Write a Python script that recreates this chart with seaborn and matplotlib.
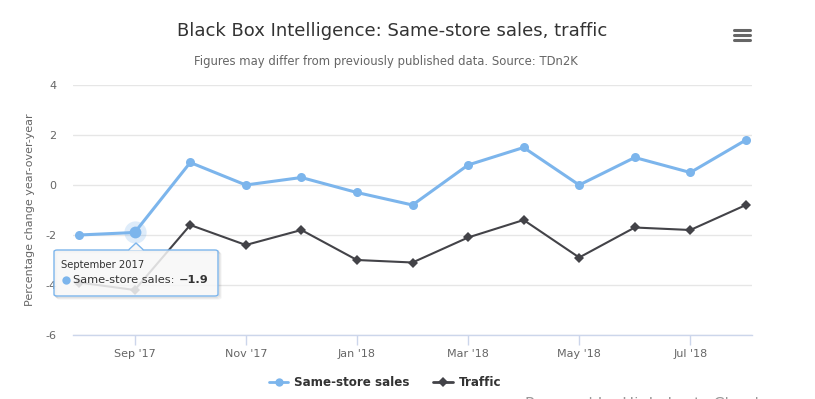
import matplotlib
matplotlib.use("Agg")
import matplotlib.pyplot as plt
import seaborn as sns
import pandas as pd
import numpy as np
from matplotlib.patches import FancyBboxPatch, Polygon
from matplotlib.lines import Line2D

months = ["Aug '17", "Sep '17", "Oct '17", "Nov '17", "Dec '17", "Jan '18", "Feb '18",
          "Mar '18", "Apr '18", "May '18", "Jun '18", "Jul '18", "Aug '18"]
same_store_sales = [-2.0, -1.9, 0.9, 0.0, 0.3, -0.3, -0.8, 0.8, 1.5, 0.0, 1.1, 0.5, 1.8]
traffic = [-3.9, -4.2, -1.6, -2.4, -1.8, -3.0, -3.1, -2.1, -1.4, -2.9, -1.7, -1.8, -0.8]
tick_labels = ["Sep '17", "Nov '17", "Jan '18", "Mar '18", "May '18", "Jul '18"]
y_ticks = [-6, -4, -2, 0, 2, 4]

W, H = 815, 399
sns.set_theme(style="white")
plt.rcParams['font.family'] = ['DejaVu Sans']

fig = plt.figure(figsize=(W / 100, H / 100), dpi=100)

def fx(px):
    return px / W

def fy(py):
    return 1 - py / H

ax = fig.add_axes([fx(73), fy(335), fx(752) - fx(73), fy(85) - fy(335)])

idx = np.arange(len(months))
df = pd.DataFrame({"x": idx, "sales": same_store_sales, "traffic": traffic})

c_sales = "#7cb5ec"
c_traffic = "#434348"

sns.lineplot(data=df, x="x", y="traffic", ax=ax, color=c_traffic, lw=1.5,
             marker="D", markersize=5, markeredgewidth=0, zorder=3)
sns.lineplot(data=df, x="x", y="sales", ax=ax, color=c_sales, lw=2.2,
             marker="o", markersize=6.5, markeredgewidth=0, zorder=4)

# hover halo on Sep point
ax.plot([idx[1]], [same_store_sales[1]], marker="o", markersize=16, color=c_sales,
        alpha=0.25, markeredgewidth=0, zorder=5)
ax.plot([idx[1]], [same_store_sales[1]], marker="o", markersize=8.5, color=c_sales,
        markeredgewidth=0, zorder=6)

ax.set_xlim(-0.11, len(months) - 1 + 0.11)
ax.set_ylim(-6, 4)
ax.set_yticks(y_ticks)
ax.set_yticklabels([str(v) for v in y_ticks], color="#666666", fontsize=8)
tick_pos = [months.index(t) for t in tick_labels]
ax.set_xticks(tick_pos)
ax.set_xticklabels(tick_labels, color="#666666", fontsize=8)
ax.grid(axis="y", color="#e6e6e6", lw=1)
ax.grid(axis="x", visible=False)
for s in ["top", "right", "left"]:
    ax.spines[s].set_visible(False)
ax.spines["bottom"].set_color("#ccd6eb")
ax.spines["bottom"].set_linewidth(1)
ax.tick_params(axis="x", length=7, color="#ccd6eb", width=1, pad=3, direction="out", bottom=True)
ax.tick_params(axis="y", length=0, pad=12)
ax.set_xlabel("")
ax.set_ylabel("")
fig.text(fx(30), fy(210), "Percentage change year-over-year", rotation=90,
         ha="center", va="center", fontsize=8, color="#666666")

# title & subtitle
fig.text(fx(392), fy(31), "Black Box Intelligence: Same-store sales, traffic",
         ha="center", va="center", fontsize=13, color="#333333")
fig.text(fx(386), fy(61), "Figures may differ from previously published data. Source: TDn2K",
         ha="center", va="center", fontsize=8.4, color="#666666")

# menu icon
for py in [30, 35, 40]:
    fig.add_artist(Line2D([fx(734), fx(750)], [fy(py), fy(py)], color="#666666", lw=2.2,
                          solid_capstyle="round"))

# legend
leg_handles = [
    Line2D([0], [0], color=c_sales, lw=2, marker="o", markersize=6, markeredgewidth=0),
    Line2D([0], [0], color=c_traffic, lw=2, marker="D", markersize=5, markeredgewidth=0),
]
fig.legend(leg_handles, ["Same-store sales", "Traffic"], loc="center",
           bbox_to_anchor=(fx(385), fy(383)), ncol=2, frameon=False,
           prop={"weight": "bold", "size": 8.6}, labelcolor="#333333",
           handlelength=1.6, handletextpad=0.5, columnspacing=2.0)

# credits (partially cut off at the bottom edge)
fig.text(fx(525), fy(396.5), "Powered by Highcharts Cloud", ha="left", va="top",
         fontsize=11.4, color="#999999")

# tooltip
for i, a in enumerate([0.10, 0.07, 0.04]):
    sh = FancyBboxPatch((fx(54 + 1 + i), fy(296 + 1 + i)), fx(164), fy(0) - fy(46),
                        boxstyle="round,pad=0,rounding_size=0.004",
                        transform=fig.transFigure, fc="none", ec="black", lw=1, alpha=a,
                        zorder=20)
    fig.add_artist(sh)
box = FancyBboxPatch((fx(54), fy(296)), fx(164), fy(0) - fy(46),
                     boxstyle="round,pad=0,rounding_size=0.004",
                     transform=fig.transFigure, fc=(0.97, 0.97, 0.97, 0.85),
                     ec=c_sales, lw=1, zorder=21)
fig.add_artist(box)
tri = Polygon([(fx(129), fy(250.5)), (fx(136), fy(243)), (fx(143), fy(250.5))],
              closed=True, transform=fig.transFigure, fc=(0.97, 0.97, 0.97, 1.0),
              ec="none", zorder=22)
fig.add_artist(tri)
fig.add_artist(Line2D([fx(129), fx(136), fx(143)], [fy(249.5), fy(243), fy(249.5)],
                      color=c_sales, lw=1, zorder=23))
fig.text(fx(61), fy(265), "September 2017", ha="left", va="center", fontsize=7.2,
         color="#333333", zorder=24)
fig.add_artist(Line2D([fx(66)], [fy(280)], marker="o", markersize=6, color=c_sales,
                      markeredgewidth=0, linestyle="none", zorder=24))
t = fig.text(fx(73), fy(280), "Same-store sales:", ha="left", va="center", fontsize=8.2,
             color="#333333", zorder=24)
fig.canvas.draw()
bb = t.get_window_extent()
fig.text(fx(bb.x1 + 4), fy(280), f"{same_store_sales[1]:.1f}".replace("-", "\u2212"), ha="left",
         va="center", fontsize=8.2, color="#333333", weight="bold", zorder=24)

fig.savefig("out.png", dpi=100)
